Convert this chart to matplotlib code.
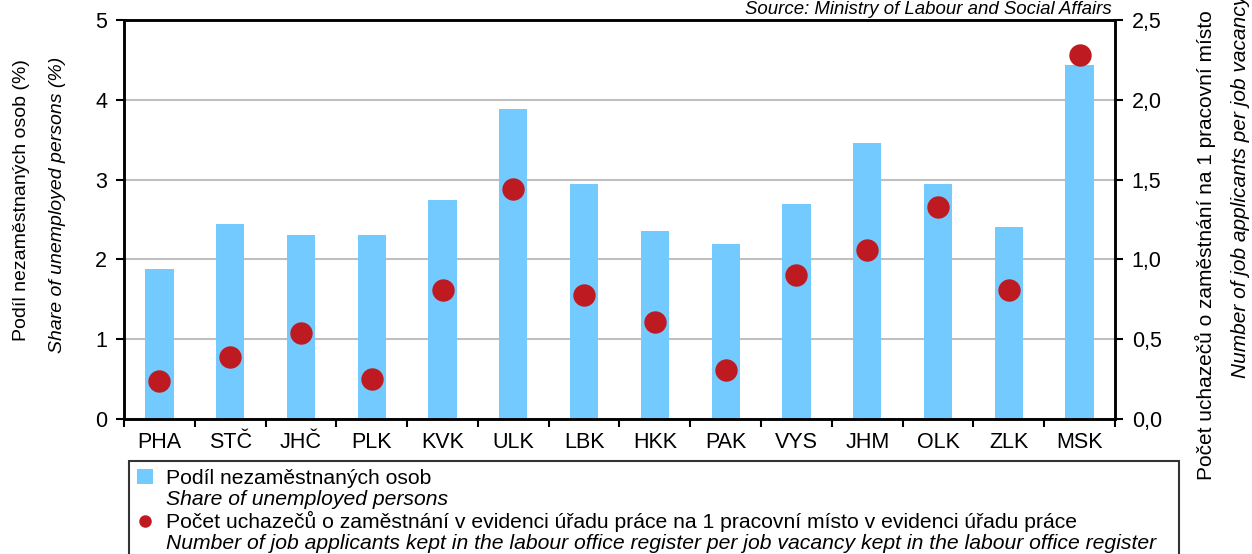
# coding: utf-8
import matplotlib
matplotlib.use('Agg')
import matplotlib.pyplot as plt
from matplotlib.patches import Patch
from matplotlib.lines import Line2D
import numpy as np

plt.rcParams['font.family'] = ['Liberation Sans', 'DejaVu Sans']

# data
regions = ['PHA', 'STČ', 'JHČ', 'PLK', 'KVK', 'ULK', 'LBK', 'HKK', 'PAK', 'VYS', 'JHM', 'OLK', 'ZLK', 'MSK']
share_unemployed = [1.88, 2.44, 2.31, 2.31, 2.74, 3.89, 2.94, 2.36, 2.19, 2.69, 3.46, 2.94, 2.41, 4.44]
applicants_per_vacancy = [0.24, 0.39, 0.54, 0.25, 0.81, 1.44, 0.78, 0.61, 0.31, 0.90, 1.06, 1.33, 0.81, 2.28]

left_ticks = [0, 1, 2, 3, 4, 5]
right_ticks = [0.0, 0.5, 1.0, 1.5, 2.0, 2.5]
right_tick_labels = ['0,0', '0,5', '1,0', '1,5', '2,0', '2,5']

bar_color = '#73CAFE'
dot_color = '#BE1A22'
grid_color = '#BFBFBF'

W, H = 1252, 554
fig = plt.figure(figsize=(W / 100, H / 100), dpi=100)
ax = fig.add_axes([124 / W, 1 - 419 / H, (1115 - 124) / W, (419 - 20) / H])
ax2 = ax.twinx()

x = np.arange(len(regions))
ax.bar(x, share_unemployed, width=0.4, color=bar_color, zorder=2)
ax2.scatter(x, applicants_per_vacancy, s=260, color=dot_color, zorder=3, linewidths=0)

ax.set_xlim(-0.5, len(regions) - 0.5)
ax.set_ylim(0, 5)
ax2.set_ylim(0, 2.5)

ax.set_yticks(left_ticks)
ax.set_yticklabels([str(t) for t in left_ticks])
ax2.set_yticks(right_ticks)
ax2.set_yticklabels(right_tick_labels)

# kategorie popisky, carky mezi kategoriemi
ax.set_xticks(x)
ax.set_xticklabels(regions)
ax.set_xticks(np.arange(-0.5, len(regions), 1.0), minor=True)
ax.tick_params(axis='x', which='major', length=0, pad=9, labelsize=15.5)
ax.tick_params(axis='x', which='minor', length=6, width=1.5, direction='out')
ax.tick_params(axis='y', length=6, width=1.5, direction='out', labelsize=15.5, pad=6)
ax2.tick_params(axis='y', length=6, width=1.5, direction='out', labelsize=15.5, pad=6)

ax.yaxis.grid(True, color=grid_color, linewidth=1.5, zorder=0)
ax.set_axisbelow(True)

for a in (ax, ax2):
    for s in a.spines.values():
        s.set_linewidth(1.8)
        s.set_color('black')

# axis titles
fig.text(22 / W, 1 - 200 / H, 'Podíl nezaměstnaných osob (%)', rotation=90,
         ha='center', va='center', fontsize=14)
fig.text(57 / W, 1 - 205 / H, 'Share of unemployed persons (%)', rotation=90,
         ha='center', va='center', fontsize=14, style='italic')
fig.text(1205 / W, 1 - 480 / H, 'Počet uchazečů o zaměstnání na 1 pracovní místo',
         rotation=90, ha='center', va='bottom', fontsize=15)
fig.text(1240 / W, 1 - 378 / H, 'Number of job applicants per job vacancy',
         rotation=90, ha='center', va='bottom', fontsize=15, style='italic')

fig.text(1112 / W, 1 - 14 / H, 'Source: Ministry of Labour and Social Affairs',
         ha='right', va='baseline', fontsize=13.4, style='italic')

# legend
handles = [Patch(facecolor=bar_color, edgecolor='none'),
           Line2D([], [], linestyle='none'),
           Line2D([], [], marker='o', linestyle='none', color=dot_color, markersize=8),
           Line2D([], [], linestyle='none')]
labels = ['Podíl nezaměstnaných osob',
          'Share of unemployed persons',
          'Počet uchazečů o zaměstnání v evidenci úřadu práce na 1 pracovní místo v evidenci úřadu práce',
          'Number of job applicants kept in the labour office register per job vacancy kept in the labour office register']
leg = fig.legend(handles, labels, loc='upper left',
                 bbox_to_anchor=(129 / W, 1 - 461 / H, (1179 - 129) / W, 0.0),
                 bbox_transform=fig.transFigure, mode='expand', borderaxespad=0,
                 fontsize=15.2, frameon=True, fancybox=False, handlelength=0.75,
                 handleheight=0.75, handletextpad=0.6, labelspacing=0.09,
                 borderpad=0.38)
leg.get_frame().set_edgecolor('black')
leg.get_frame().set_linewidth(1.5)
for i, t in enumerate(leg.get_texts()):
    if i % 2 == 1:
        t.set_style('italic')

fig.savefig('out.png', dpi=100)
